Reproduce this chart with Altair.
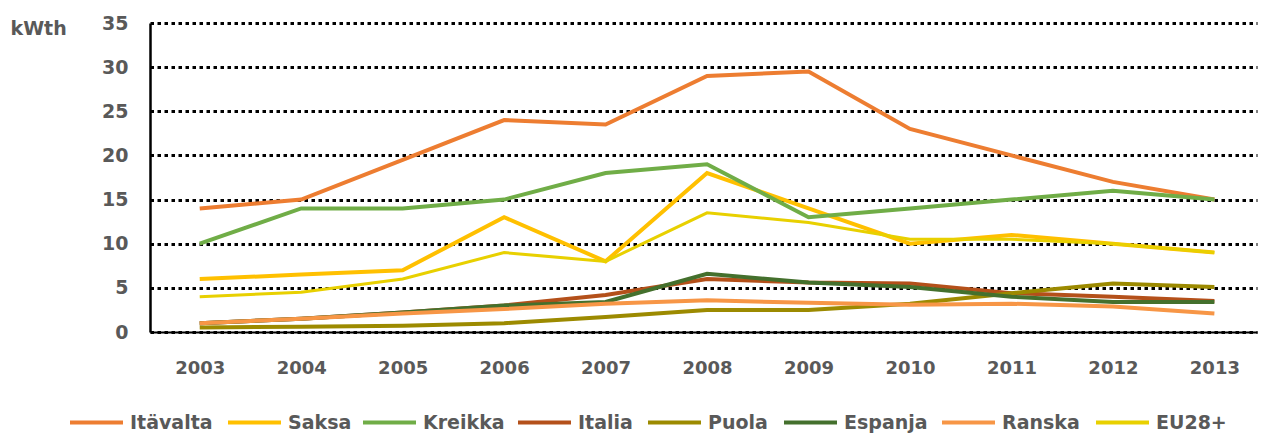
import altair as alt
import pandas as pd

years = [2003, 2004, 2005, 2006, 2007, 2008, 2009, 2010, 2011, 2012, 2013]
series = ["Itävalta", "Saksa", "Kreikka", "Italia", "Puola", "Espanja", "Ranska", "EU28+"]
values = {
    "Itävalta": [14, 15, 19.5, 24, 23.5, 29, 29.5, 23, 20, 17, 15],
    "Saksa":    [6, 6.5, 7, 13, 8, 18, 14, 10, 11, 10, 9],
    "Kreikka":  [10, 14, 14, 15, 18, 19, 13, 14, 15, 16, 15],
    "Italia":   [1, 1.5, 2.2, 3, 4.2, 6, 5.6, 5.5, 4.4, 4, 3.5],
    "Puola":    [0.5, 0.6, 0.7, 1, 1.7, 2.5, 2.5, 3.2, 4.4, 5.5, 5.1],
    "Espanja":  [1, 1.5, 2.2, 3, 3.4, 6.6, 5.6, 5.1, 4.0, 3.4, 3.4],
    "Ranska":   [1, 1.5, 2.1, 2.6, 3.2, 3.6, 3.3, 3.1, 3.2, 2.9, 2.1],
    "EU28+":    [4, 4.5, 6, 9, 8, 13.5, 12.4, 10.5, 10.5, 10, 9],
}
colors = ["#ED7D31", "#FFC000", "#70AD47", "#B4501A", "#9C8A00", "#44702D", "#F79646", "#E8D000"]
widths = [4, 4, 4, 4, 4, 4, 4, 3]
y_ticks = [0, 5, 10, 15, 20, 25, 30, 35]
# legend entry left edges relative to the plot's left edge (layout only)
legend_x = [-82, 76, 211, 366, 496, 632, 790, 944]

FONT = "DejaVu Sans"
GRAY = "#595959"

x_enc = alt.X("Vuosi:Q",
              scale=alt.Scale(domain=[2002.51, 2013.42], nice=False, zero=False),
              axis=alt.Axis(values=years, format="d", title=None, grid=False, ticks=False,
                            labelPadding=27, labelFont=FONT, labelFontSize=18,
                            labelFontWeight="bold", labelColor=GRAY,
                            domainColor="black", domainWidth=2))
y_enc = alt.Y("kWth:Q",
              scale=alt.Scale(domain=[0, 35], nice=False),
              axis=alt.Axis(values=y_ticks, title="kWth", titleAngle=0, titleAlign="left",
                            titleBaseline="middle", titleX=-140, titleY=5,
                            titleFont=FONT, titleFontSize=19, titleFontWeight="bold",
                            titleColor=GRAY, ticks=False, labelPadding=22,
                            labelFont=FONT, labelFontSize=19, labelFontWeight="bold",
                            labelColor=GRAY, grid=True, gridColor="black", gridWidth=3,
                            gridDash=[3.5, 3.5], domainColor="black", domainWidth=2.5))

layers = []
for i, s in enumerate(series):
    d = pd.DataFrame({"Vuosi": years, "kWth": values[s], "Sarja": [s] * len(years)})
    layers.append(
        alt.Chart(d).mark_line(strokeCap="butt", strokeJoin="miter",
                               strokeWidth=widths[i]).encode(
            x=x_enc,
            y=y_enc,
            color=alt.Color("Sarja:N",
                            scale=alt.Scale(domain=[s], range=[colors[i]]),
                            legend=alt.Legend(title=None, orient="none",
                                              legendX=legend_x[i], legendY=371,
                                              symbolType="stroke", symbolSize=2809,
                                              symbolStrokeWidth=4,
                                              labelFont=FONT, labelFontSize=19,
                                              labelFontWeight="bold", labelColor=GRAY,
                                              labelOffset=5)),
            order=alt.Order("Vuosi:Q"),
        )
    )

chart = alt.layer(*layers).resolve_scale(color="independent").resolve_legend(
    color="independent"
).properties(
    width=1107, height=309,
    autosize=alt.AutoSizeParams(type="none"),
    padding={"left": 142, "top": 15, "right": 2, "bottom": 103},
).configure_view(stroke=None)

chart.save("out.html", embed_options={"renderer": "svg", "actions": False})
